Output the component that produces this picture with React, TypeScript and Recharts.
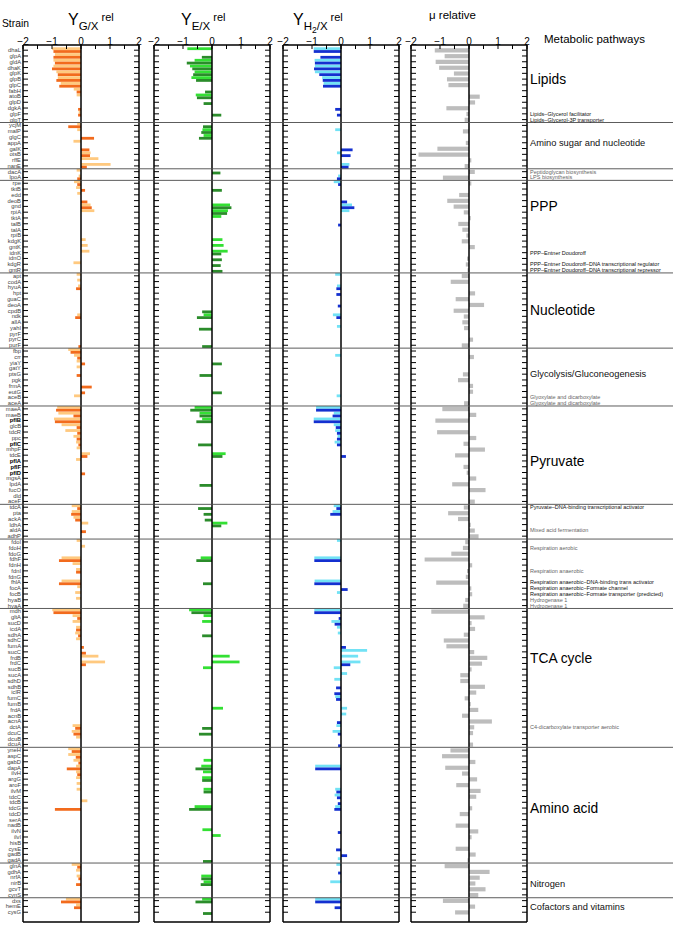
import { BarChart, Bar, XAxis, YAxis, ReferenceLine, ReferenceDot } from "recharts";

const STRAINS = [
  "dhaL", "glpA", "gldA", "dhaK", "glpK", "glpB", "glpC", "fabH", "atoB", "glpD", "dgkA", "glpF", "glpT",
  "ycjM", "malP", "glgC", "appA", "galK", "otsB", "rffE", "nanE",
  "dacA", "lpoA",
  "rpe", "tktB", "edd", "deoB", "gnd", "rpiA", "tktA", "talB", "talA", "rpiB", "kdgK", "gntK", "idnK", "idnO", "kdgR", "gntR",
  "apt", "codA", "hyuA", "hpt", "guaC", "deoA", "cpdB", "ndk", "allA", "yahI", "pyrF", "pyrC", "purF",
  "fbp", "crr", "yiaY", "gatY", "ptsG", "pgk", "frmA", "eutG", "aceB", "aceA",
  "maeA", "maeB", "pflB", "glcB", "tdcR", "ppc", "pflC", "mhpF", "tdcE", "pflA", "pflF", "pflD", "mgsA", "lpdA", "fucO", "dld", "aceF",
  "tdcA", "pta", "ackA", "ldhA", "aldA", "adhP",
  "fdoI", "fdoH", "fdoG", "fdhF", "fdnH", "fdnI", "fdnG", "fhlA", "focA", "focB", "hyaB", "hyaA",
  "mdh", "gltA", "sucD", "icdA", "sdhA", "sdhC", "fumA", "sucC", "frdB", "frdC", "sucB", "sucA", "sdhD", "sdhB", "iclR", "fumC", "fumB", "frdA", "acnB", "acnA", "dctA", "dcuC", "dcuB", "dcuA",
  "yneH", "aspC", "gabD", "dapA", "ilvH", "argG", "aroF", "ilvM", "tdcC", "tdcB", "tdcG", "tdcD", "serA", "nadB", "ilvN", "ilvI", "hisB", "cysE", "gadB", "gadA",
  "glnA", "gdhA", "nrfA", "nirB", "gcvT", "cynS",
  "dxs", "hemE", "cysG",
];

const BOLD_STRAINS = ["pflB", "pflC", "pflA", "pflF", "pflD"];

// Y G/X rel (light / dark replicate)
const G_LIGHT = [
  -1.0, -0.9, -0.95, -0.95, -0.85, -0.8, -0.7, -0.25, -0.15, 0, 0, -0.08, 0,
  -0.13, -0.13, 0, -0.26, 0, 0.33, 0.6, 1.02,
  -0.15, -0.08,
  -0.24, -0.17, -0.13, 0, 0.33, 0.46, 0, 0, 0, 0, 0.16, 0.23, 0.29, 0, -0.26, 0,
  -0.15, -0.13, -0.1, 0, 0, 0, 0, -0.13, 0, 0, 0, 0, 0,
  -0.44, -0.24, -0.15, -0.15, 0, 0, 0, 0, -0.24, 0,
  -0.82, -0.78, -0.93, -0.67, -0.54, -0.26, -0.17, -0.15, 0.31, -0.17, 0, 0, 0, 0, 0, 0, 0,
  -0.32, -0.32, -0.26, 0.25, 0, 0,
  -0.15, 0.14, 0, -0.67, -0.29, -0.17, 0, -0.67, -0.13, -0.2, -0.17, 0,
  -0.99, -0.29, -0.29, -0.17, -0.2, -0.17, 0, 0, 0.6, 0.83, 0, 0, 0, 0, 0, 0, 0, 0, 0, 0, -0.29, -0.32, -0.17, 0,
  -0.44, -0.44, -0.26, -0.17, -0.17, -0.17, -0.15, -0.15, 0, 0.22, 0, 0, 0, 0, 0, 0, 0, 0, 0, 0,
  -0.32, -0.17, -0.15, 0, 0, 0,
  -0.52, -0.17, 0,
];
const G_DARK = [
  -0.95, -0.95, -0.9, -1.0, -0.8, -0.85, -0.75, -0.15, 0, 0, -0.1, -0.1, 0,
  -0.44, 0, 0.45, 0, 0.29, 0.31, 0, 0.2,
  0, -0.13,
  -0.13, 0.14, 0, 0.22, 0.37, 0, 0, 0, 0, 0, 0, 0, 0, 0, 0, 0,
  0, 0, -0.17, 0, 0, 0, 0, -0.2, 0, 0, 0, 0, -0.09,
  -0.36, -0.13, 0.14, 0, -0.15, 0, 0.37, 0.14, 0, 0,
  -0.86, -0.26, -0.9, -0.15, -0.13, -0.15, -0.09, 0, 0.22, 0, 0, 0.14, 0, 0, 0, 0, 0,
  -0.13, -0.34, -0.2, 0, 0.17, 0,
  0, 0, 0, -0.76, 0, -0.17, 0, -0.76, 0, 0, 0, 0,
  -0.95, -0.13, 0, -0.17, -0.1, 0, 0.1, 0.17, 0, 0.17, 0, 0, 0, 0, 0, 0, 0, 0, 0, 0, -0.2, -0.26, 0, 0,
  -0.32, -0.18, -0.09, -0.49, -0.13, 0, 0, 0, 0, 0, -0.9, 0, 0, 0, 0, 0, 0, 0, 0, 0,
  -0.13, 0, -0.09, -0.17, 0, 0,
  -0.69, -0.24, 0,
];

// Y E/X rel
const E_LIGHT = [
  -0.85, 0, -0.6, -0.76, -0.6, -0.71, 0, 0, -0.56, 0, 0, 0, 0,
  0, -0.33, -0.29, 0, 0, 0, 0, 0,
  0, 0,
  0, 0, 0, 0, 0.62, 0.55, 0.32, 0, 0, 0, 0.36, 0.4, 0.54, 0, 0, 0,
  0, 0, 0, 0, 0, 0, 0, -0.29, 0, 0, 0, 0, 0,
  0, 0, 0, 0, 0, 0, 0, 0, 0, 0,
  -0.6, -0.43, -0.34, 0, 0, 0, 0, 0, 0.47, 0, 0, 0, 0, 0, 0, 0, 0,
  0, 0, 0, 0.53, 0, 0,
  0, 0, 0, -0.39, 0, 0, 0, 0, 0, 0, 0, 0,
  -0.79, -0.29, -0.34, 0, 0, 0, 0, 0, 0.61, 0.95, -0.31, 0, 0, 0, 0, 0, 0, 0.38, 0, 0, 0, 0, 0, 0,
  0, 0, -0.29, -0.37, -0.31, -0.34, 0, -0.29, 0, 0, -0.6, 0, 0, 0, -0.33, 0.3, 0, 0, 0, 0,
  0, 0, -0.37, -0.29, 0, 0,
  -0.34, 0, 0,
];
const E_DARK = [
  0, -0.35, -0.87, -0.68, -0.65, -0.55, 0, -0.24, -0.52, -0.29, 0, 0.32, 0,
  -0.31, -0.37, -0.45, 0, 0, 0, 0, 0,
  0.29, 0,
  0, 0.34, 0, 0, 0.67, 0.52, 0, 0, 0, 0, 0, 0, 0.32, 0.34, 0.3, 0.36,
  0, 0, 0, 0, 0, 0, -0.34, -0.52, 0, -0.45, 0, 0, -0.34,
  0, 0, 0.34, 0, -0.43, 0, 0, 0.34, 0, 0,
  -0.75, -0.43, -0.54, 0, 0, 0, -0.48, 0, 0.36, 0, 0, 0, 0, -0.43, 0, 0, 0,
  -0.48, -0.29, -0.25, 0.32, 0, 0,
  0, 0, 0, -0.54, 0, 0, 0, -0.31, 0, 0, 0, 0,
  -0.71, 0, 0, 0, -0.34, 0, 0, 0, 0, 0, 0, 0, 0, 0, 0, 0, 0, 0, 0, 0, -0.34, -0.45, 0, 0,
  0, 0, 0, -0.57, 0, -0.34, 0, -0.29, 0, 0, -0.79, 0, 0, 0, 0, 0, 0, 0, 0, -0.31,
  0, 0, -0.37, -0.39, 0, 0,
  -0.57, 0, -0.31,
];

// Y H2/X rel
const H_LIGHT = [
  -0.94, 0, -0.91, -0.9, -0.9, -0.65, -0.6, 0, 0, 0, 0, 0, 0,
  0, -0.2, 0, 0, 0, -0.14, 0, 0.29,
  0, -0.1,
  -0.25, 0, 0, 0, 0.38, 0.29, 0, 0, 0, 0, 0, 0, 0, 0, 0, 0,
  -0.2, 0, -0.14, 0, 0, 0, 0, -0.28, 0, -0.14, 0, 0, 0,
  0, -0.2, 0, 0, 0, 0, 0, 0, -0.15, 0,
  -0.86, -0.25, -0.94, -0.25, -0.2, -0.12, -0.22, 0, 0, 0, 0, 0, 0, 0, 0, 0, 0,
  -0.25, -0.29, 0, 0, 0, 0,
  -0.14, 0, 0, -0.92, 0, 0, 0, -0.91, 0, -0.14, 0, 0,
  -0.92, 0, -0.33, -0.14, -0.11, 0, 0, 0.9, 0.59, 0.67, -0.25, 0.21, -0.23, 0, 0, -0.2, 0, 0.21, 0.18, 0, -0.16, -0.29, 0, 0,
  0, 0, 0, -0.89, 0, 0, 0, -0.2, -0.22, 0, -0.2, 0, 0, 0, 0, 0, 0, 0, 0, -0.11,
  -0.16, 0, 0, -0.37, 0, 0,
  -0.89, 0, 0,
];
const H_DARK = [
  -0.94, -0.71, -0.9, -0.93, -0.75, -0.63, -0.62, 0, 0, 0, -0.2, -0.14, 0,
  0, 0, 0, 0, 0.4, 0.33, 0, 0.26,
  0, -0.14,
  -0.1, 0, 0, 0.21, 0.46, 0, 0, -0.1, 0, 0, 0, 0, 0, 0, 0, 0,
  0, 0, -0.16, -0.16, 0, -0.11, 0, -0.16, 0, 0, 0, 0, 0,
  0, 0, 0, 0, 0, 0, 0, 0, 0, 0,
  -0.86, -0.29, -0.94, -0.18, -0.14, -0.14, -0.14, 0, 0.17, 0, 0, 0, 0, 0, 0, 0, 0,
  -0.16, -0.37, 0, 0, 0, 0,
  0, 0, 0, -0.92, 0, 0, 0, -0.92, 0.23, 0, 0, 0,
  -0.92, -0.08, -0.22, 0, 0, 0, 0.17, 0, 0, 0.32, 0, 0, 0, -0.17, -0.23, -0.17, 0, 0, 0, -0.14, 0, -0.11, 0, -0.1,
  0, 0, 0, -0.89, 0, 0, 0, -0.16, -0.14, -0.11, -0.23, 0, 0, 0, -0.11, 0, 0, -0.17, 0.21, 0,
  0, -0.1, 0, 0, 0, 0,
  -0.89, -0.22, 0,
];

// μ relative
const MU_REL = [
  -1.18, -0.84, -1.15, -1.03, -0.52, -0.76, -0.71, 0, 0.37, 0.21, -0.78, -0.09, -0.15,
  0, -0.21, 0, -0.11, -1.09, -1.74, 0.08, -0.15,
  0.2, -0.9,
  0.08, 0, -0.34, -0.75, -0.53, -0.18, 0.06, -0.37, -0.23, -0.09, -0.25, 0.2, 0, -0.07, -0.11, -0.05,
  -0.25, -0.63, 0, 0.21, -0.46, 0.52, -0.53, -0.18, -0.23, -0.17, 0, 0.14, -0.25,
  0, 0.17, 0, 0, -0.21, -0.38, 0.14, 0.14, 0, -0.17,
  -0.92, 0.25, -1.16, 0, -1.1, 0.25, -0.19, 0.55, -0.48, 0, -0.19, -0.08, 0.25, -0.58, 0.57, 0, 0.2,
  -0.18, -0.72, -0.38, 0.06, 0.2, 0.33,
  -0.13, -0.21, -0.61, -1.53, 0.11, -0.07, -0.11, -1.13, 0.08, 0.11, -0.13, -0.2,
  -1.3, 0.54, 0.09, 0.21, -0.18, -0.87, -0.78, 0.18, 0.63, 0.45, 0.09, -0.3, -0.3, 0.55, 0.25, -0.15, 0.06, 0.32, -0.24, 0.79, 0.18, 0.14, 0, 0.14,
  -0.64, -0.93, 0.22, -0.82, -0.24, 0.28, -0.44, 0.4, 0.25, 0, 0.11, -0.32, 0, -0.46, 0.32, 0.09, 0, -0.46, 0.23, -0.05,
  -0.84, 0.71, 0.37, 0.22, 0.57, 0.32,
  -0.9, 0.21, -0.48,
];

// first strain of each pathway block (a separator is drawn above it)
const SECTION_STARTS = ["ycjM", "dacA", "rpe", "apt", "fbp", "maeA", "tdcA", "fdoI", "mdh", "yneH", "glnA", "dxs"];

const PATHWAY_LABELS = [
  { at: "glpB", text: "Lipids", kind: "big" },
  { at: "glpF", text: "Lipids\u2013Glycerol facilitator", kind: "small" },
  { at: "glpT", text: "Lipids\u2013Glycerol-3P transporter", kind: "small" },
  { at: "appA", text: "Amino sugar and nucleotide", kind: "mid" },
  { at: "dacA", text: "Peptidoglycan biosynthesis", kind: "faint" },
  { at: "lpoA", text: "LPS biosynthesis", kind: "faint" },
  { at: "gnd", text: "PPP", kind: "big" },
  { at: "idnK", text: "PPP\u2013Entner Doudoroff", kind: "small" },
  { at: "kdgR", text: "PPP\u2013Entner Doudoroff\u2013DNA transcriptional regulator", kind: "small" },
  { at: "gntR", text: "PPP\u2013Entner Doudoroff\u2013DNA transcriptional repressor", kind: "small" },
  { at: "cpdB", text: "Nucleotide", kind: "big" },
  { at: "ptsG", text: "Glycolysis/Gluconeogenesis", kind: "mid" },
  { at: "aceB", text: "Glyoxylate and dicarboxylate", kind: "faint" },
  { at: "aceA", text: "Glyoxylate and dicarboxylate", kind: "faint" },
  { at: "pflA", text: "Pyruvate", kind: "big" },
  { at: "tdcA", text: "Pyruvate\u2013DNA-binding transcriptional activator", kind: "small" },
  { at: "aldA", text: "Mixed acid fermentation", kind: "faint" },
  { at: "fdoH", text: "Respiration aerobic", kind: "faint" },
  { at: "fdnI", text: "Respiration anaerobic", kind: "faint" },
  { at: "fhlA", text: "Respiration anaerobic\u2013DNA-binding trans activator", kind: "small" },
  { at: "focA", text: "Respiration anaerobic\u2013Formate channel", kind: "small" },
  { at: "focB", text: "Respiration anaerobic\u2013Formate transporter (predicted)", kind: "small" },
  { at: "hyaB", text: "Hydrogenase 1", kind: "faint" },
  { at: "hyaA", text: "Hydrogenase 1", kind: "faint" },
  { at: "frdB", text: "TCA cycle", kind: "big" },
  { at: "dctA", text: "C4-dicarboxylate transporter aerobic", kind: "faint" },
  { at: "tdcG", text: "Amino acid", kind: "big" },
  { at: "nirB", text: "Nitrogen", kind: "mid" },
  { at: "hemE", text: "Cofactors and vitamins", kind: "mid" },
];

const ROWS = STRAINS.map((strain, i) => ({
  strain,
  gL: G_LIGHT[i],
  gD: G_DARK[i],
  eL: E_LIGHT[i],
  eD: E_DARK[i],
  hL: H_LIGHT[i],
  hD: H_DARK[i],
  mu: MU_REL[i],
}));

const FONT = '"Liberation Sans", Arial, Helvetica, sans-serif';
const W = 673;
const H = 926;
const FRAME_TOP = 45;
const FRAME_BOTTOM_GAP = 4;
const ROW_PAD = { top: 2.3, bottom: 6.9 };
const PLOT_W = 116;
const SIDE = 8; // room for the -2 / 2 tick labels
const LABEL_X = 530;
const X_TICKS = [-2, -1.5, -1, -0.5, 0, 0.5, 1, 1.5, 2];

const KIND_STYLE: Record<string, { fontSize: number; fill: string }> = {
  big: { fontSize: 13.8, fill: "#000" },
  mid: { fontSize: 9.3, fill: "#111" },
  small: { fontSize: 5.5, fill: "#111" },
  faint: { fontSize: 5.5, fill: "#666" },
};

const fmtTick = (v: number) => (Number.isInteger(v) ? (v < 0 ? `\u2212${-v}` : String(v)) : "");
const NoTick = () => <g />;

function StrainTick({ x, y, payload }: any) {
  const bold = BOLD_STRAINS.includes(payload.value);
  return (
    <text
      x={x}
      y={y}
      dy={2}
      textAnchor="end"
      fontSize={5.8}
      fontWeight={bold ? 700 : 400}
      fill={bold ? "#000" : "#444"}
    >
      {payload.value}
    </text>
  );
}

const frameLine = { stroke: "#000", strokeWidth: 1.5 };
const tickLine = { stroke: "#000", strokeWidth: 1 };

function Panel({
  left,
  bars,
  barSize,
  strains = false,
}: {
  left: number;
  bars: { key: string; color: string }[];
  barSize: number;
  strains?: boolean;
}) {
  const axisW = strains ? 23 : 1;
  const padL = strains ? 0 : SIDE;
  return (
    <div style={{ position: "absolute", left: left - axisW - padL, top: 0 }}>
      <BarChart
        layout="vertical"
        width={padL + axisW + PLOT_W + 1 + SIDE}
        height={H}
        data={ROWS}
        barGap={0}
        margin={{ top: 0, right: SIDE, bottom: FRAME_BOTTOM_GAP - 1, left: padL }}
      >
        <XAxis
          type="number"
          orientation="top"
          domain={[-2, 2]}
          ticks={X_TICKS}
          interval={0}
          allowDataOverflow
          height={FRAME_TOP}
          tickSize={-4}
          tickMargin={4}
          tickFormatter={fmtTick}
          tick={{ fontSize: 10, fill: "#000" }}
          axisLine={frameLine}
          tickLine={tickLine}
        />
        <XAxis
          xAxisId="b"
          type="number"
          orientation="bottom"
          domain={[-2, 2]}
          ticks={X_TICKS}
          interval={0}
          height={1}
          tickSize={-4}
          tick={NoTick}
          axisLine={frameLine}
          tickLine={tickLine}
        />
        <YAxis
          type="category"
          dataKey="strain"
          width={axisW}
          interval={0}
          padding={ROW_PAD}
          tickSize={-5}
          tickMargin={7}
          tick={strains ? <StrainTick /> : NoTick}
          axisLine={frameLine}
          tickLine={tickLine}
        />
        <YAxis
          yAxisId="r"
          orientation="right"
          type="category"
          dataKey="strain"
          width={1}
          interval={0}
          padding={ROW_PAD}
          tickSize={-5}
          tick={NoTick}
          axisLine={frameLine}
          tickLine={tickLine}
        />
        <ReferenceLine x={0} stroke="#000" strokeWidth={1.5} />
        {bars.map((b) => (
          <Bar key={b.key} dataKey={b.key} fill={b.color} barSize={barSize} isAnimationActive={false} />
        ))}
      </BarChart>
    </div>
  );
}

// separators across the whole width + pathway names on the right
function Overlay() {
  return (
    <div style={{ position: "absolute", left: 0, top: 0 }}>
      <BarChart
        layout="vertical"
        width={W}
        height={H}
        data={ROWS}
        margin={{ top: FRAME_TOP, right: 0, bottom: FRAME_BOTTOM_GAP, left: 0 }}
      >
        <XAxis type="number" domain={[0, W]} allowDataOverflow hide />
        <YAxis type="category" dataKey="strain" hide padding={ROW_PAD} />
        <Bar dataKey="mu" fill="none" fillOpacity={0} isAnimationActive={false} />
        {SECTION_STARTS.map((s) => (
          <ReferenceLine key={s} y={s} position="start" stroke="#4a4a4a" strokeWidth={0.9} ifOverflow="visible" />
        ))}
        {PATHWAY_LABELS.map((l, i) => (
          <ReferenceDot
            key={i}
            x={LABEL_X}
            y={l.at}
            r={0.01}
            fill="none"
            stroke="none"
            ifOverflow="visible"
            label={{ value: l.text, position: "right", offset: 0, ...KIND_STYLE[l.kind] }}
          />
        ))}
      </BarChart>
    </div>
  );
}

function Titles() {
  return (
    <svg width={W} height={50} style={{ position: "absolute", left: 0, top: 0 }}>
      <text x={2} y={27} fontSize={10.3}>Strain</text>
      <text x={68} y={25} fontSize={16}>
        Y<tspan fontSize={11.5} dy={5}>G/X</tspan>
        <tspan fontSize={11} dx={3} dy={-9}>rel</tspan>
      </text>
      <text x={181} y={25} fontSize={16}>
        Y<tspan fontSize={11.5} dy={5}>E/X</tspan>
        <tspan fontSize={11} dx={3} dy={-9}>rel</tspan>
      </text>
      <text x={293} y={25} fontSize={16}>
        Y<tspan fontSize={11.5} dy={5}>H</tspan>
        <tspan fontSize={8.5} dy={3}>2</tspan>
        <tspan fontSize={11.5} dy={-3}>/X</tspan>
        <tspan fontSize={11} dx={3} dy={-9}>rel</tspan>
      </text>
      <text x={429} y={19} fontSize={11.5}>μ relative</text>
      <text x={544} y={43} fontSize={11.5}>Metabolic pathways</text>
    </svg>
  );
}

export default function App() {
  return (
    <div
      style={{
        position: "absolute",
        left: 0,
        top: 0,
        width: W,
        height: H,
        background: "#fff",
        fontFamily: FONT,
        overflow: "hidden",
      }}
    >
      <Panel
        left={23}
        strains
        barSize={2.8}
        bars={[
          { key: "gL", color: "#FFC97F" },
          { key: "gD", color: "#F26B1D" },
        ]}
      />
      <Panel
        left={154}
        barSize={2.8}
        bars={[
          { key: "eL", color: "#33E033" },
          { key: "eD", color: "#2B8C2B" },
        ]}
      />
      <Panel
        left={283}
        barSize={2.8}
        bars={[
          { key: "hL", color: "#72E2F5" },
          { key: "hD", color: "#1430D0" },
        ]}
      />
      <Panel left={411} barSize={4.2} bars={[{ key: "mu", color: "#BDBDBD" }]} />
      <Titles />
      <Overlay />
    </div>
  );
}
